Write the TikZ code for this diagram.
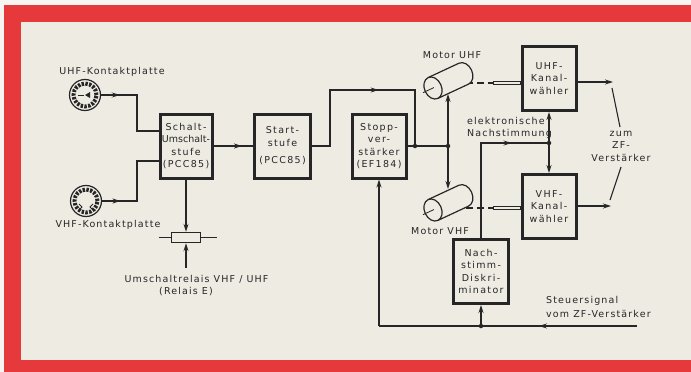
\documentclass[tikz,border=0pt]{standalone}
\usepackage{fontspec}
\newfontfamily\labelfont[LetterSpace=12]{DejaVu Sans}
\newfontfamily\boxfont[LetterSpace=14]{DejaVu Sans}
\usepackage{tikz}
\usetikzlibrary{arrows.meta}
\usetikzlibrary{decorations.markings}
\definecolor{paper}{HTML}{EEEBE3}
\definecolor{frame}{HTML}{E6393C}
\definecolor{ink}{HTML}{262626}
\tikzset{
    lbl/.style = {align=center, inner sep=0pt, text=ink, font=\labelfont\fontsize{9.5}{12.5}\selectfont},
    block/.style = {lbl, draw=ink, line width=3pt, minimum width=54pt, minimum height=64pt, font=\boxfont\fontsize{9.5}{12.5}\selectfont},
    wire/.style = {draw=ink, line width=1.1pt},
    dot/.style = {circle, fill=ink, inner sep=0pt, minimum size=4.5pt},
    midarrow/.style = {postaction={decorate}, decoration={markings, mark=at position #1 with {\arrow{>}}}},
    plate/.style = {circle, draw=ink, line width=1.2pt, minimum size=31pt, inner sep=0pt,
        path picture={\draw[ink, line width=4pt, dash pattern=on 2.4pt off 1.4pt] (path picture bounding box.center) circle[radius=11.5pt];}},
    relay/.style = {draw=ink, line width=1.4pt, minimum width=29pt, minimum height=10pt, inner sep=0pt},
    motor/.pic = {
        \draw[ink, line width=1.2pt, fill=paper] (0pt,11.5pt) -- (34pt,11.5pt) arc[start angle=90, end angle=-90, x radius=8.5pt, y radius=11.5pt] -- (0pt,-11.5pt);
        \draw[ink, line width=1.2pt, fill=paper] (0pt,0pt) ellipse[x radius=8.5pt, y radius=11.5pt];
        \draw[ink, line width=0.8pt] (1pt,0pt) -- (-11pt,0pt);
    }
}
\begin{document}
\begin{tikzpicture}[x=1pt, y=-1pt, >={Stealth[length=8pt, width=5pt]}]
    % paper and red frame
    \fill[paper!50!white] (0,0) rectangle (691,372);
    \fill[frame] (4,5) rectangle (691,372);
    \fill[paper] (21,22) rectangle (691,360);
    \useasboundingbox (0,0) rectangle (691,372);

    % blocks
    \node[block, minimum width=52pt] (schalt) at (186,146) {Schalt-\\{\addfontfeature{LetterSpace=0}Umschalt-}\\stufe\\(PCC85)};
    \node[block, minimum width=56pt] (start) at (282.5,146) {Start-\\stufe\\[5pt](PCC85)};
    \node[block] (stopp) at (379,146) {Stopp-\\ver-\\stärker\\(EF184)};
    \node[block] (uhfk) at (549,78.5) {UHF-\\Kanal-\\wähler};
    \node[block] (vhfk) at (549,206.5) {VHF-\\Kanal-\\wähler};
    \node[block, minimum width=55pt] (nachst) at (481,271.5) {Nach-\\stimm-\\Diskri-\\minator};
    \node[relay] (relais) at (186,237.5) {};

    % contact plates
    \node[plate] (uhfp) at (85,95) {};
    \node[plate] (vhfp) at (86,201) {};
    \draw[ink, line width=0.8pt] ([xshift=-7pt]uhfp.center) -- ++(6,0);
    \fill[ink] ([xshift=0pt]uhfp.center) -- ++(5,-3) -- ++(0,6) -- cycle;
    \draw[ink, line width=0.9pt] ([xshift=-7pt,yshift=-3pt]vhfp.center) -- ++(3,3) -- ++(-3,3);
    \draw[ink, line width=0.9pt] ([xshift=7pt,yshift=-3pt]vhfp.center) -- ++(-3,3) -- ++(3,3);

    % labels
    \node[lbl] (uhfl) at (112,72) {UHF-Kontaktplatte};
    \node[lbl] (vhfl) at (108,225) {VHF-Kontaktplatte};
    \node[lbl] (relaisl) at (196.5,279) {Umschaltrelais VHF / UHF};
    \node[lbl] (relaisx) at (186,292) {(Relais E)};
    \node[lbl] (mul) at (452,55) {Motor UHF};
    \node[lbl] (mvl) at (440,231) {Motor VHF};
    \node[lbl, align=left, anchor=west] (nachl) at (467,128) {elektronische\\Nachstimmung};
    \node[lbl] (zfl) at (621,146) {zum\\ZF-\\Verstärker};
    \node[lbl, align=left, anchor=west] (steuerl) at (546,307) {Steuersignal\\[1.5pt]vom ZF-Verstärker};

    % free ends
    \coordinate (j1) at (415,146);
    \coordinate (j2) at (448,146);
    \coordinate (j3) at (481,326);
    \coordinate (j4) at (549,143);
    \coordinate (steuer) at (637,326);
    \coordinate (rin) at (186,268);
    \coordinate (uout) at (613,82);
    \coordinate (vout) at (611,206);
    \coordinate (muin) at (448,94);
    \coordinate (mvin) at (448,189);

    % motor couplings
    \draw[wire, dash pattern=on 7pt off 4pt] (455,83) -- (493,83);
    \draw[ink, line width=0.7pt] (493,81.5) rectangle (uhfk.west |- 0,84.5);
    \draw[wire, dash pattern=on 7pt off 4pt] (455,208) -- (493,208);
    \draw[ink, line width=0.7pt] (493,206.5) rectangle (vhfk.west |- 0,209.5);
    \pic[rotate=25] at (433,88) {motor};
    \pic[rotate=25] at (433,210) {motor};

    % connections
    \draw[wire, midarrow=0.2] (uhfp.east) -- (137,95) |- (schalt.west |- 0,131);
    \draw[wire, midarrow=0.19] (vhfp.east) -- (137,201) |- (schalt.west |- 0,161);
    \draw[wire, midarrow=0.72] (schalt.east) -- (start.west);
    \draw[wire, midarrow=0.57] (start.east) -- (330,146) -- (330,90) -- (415,90) -- (j1);
    \draw[wire] (stopp.east) -- (j2);
    \draw[wire, ->] (j2) -- (muin);
    \draw[wire, ->] (j2) -- (mvin);
    \draw[wire, ->] (schalt.south) -- (relais.north);
    \draw[wire] ([xshift=-12pt]relais.west) -- (relais.west);
    \draw[wire] (relais.east) -- ([xshift=16pt]relais.east);
    \draw[wire, ->] (rin) -- (relais.south);
    \draw[wire, midarrow=0.38] (steuer) -- (stopp.south |- steuer);
    \draw[wire, ->] (stopp.south |- steuer) -- (stopp.south);
    \draw[wire, ->] (j3) -- (nachst.south);
    \draw[wire, midarrow=0.77] (nachst.north) |- (j4);
    \draw[wire, ->] (j4) -- (uhfk.south);
    \draw[wire, ->] (j4) -- (vhfk.north);
    \draw[wire, ->] (uhfk.east |- uout) -- (uout);
    \draw[wire, ->] (vhfk.east |- vout) -- (vout);
    \draw[wire] (612,88) -- (620,127);
    \draw[wire] (621,167) -- (610,200);
    \foreach \j in {j1,j2,j3,j4}
        \node[dot] at (\j) {};
\end{tikzpicture}
\end{document}
